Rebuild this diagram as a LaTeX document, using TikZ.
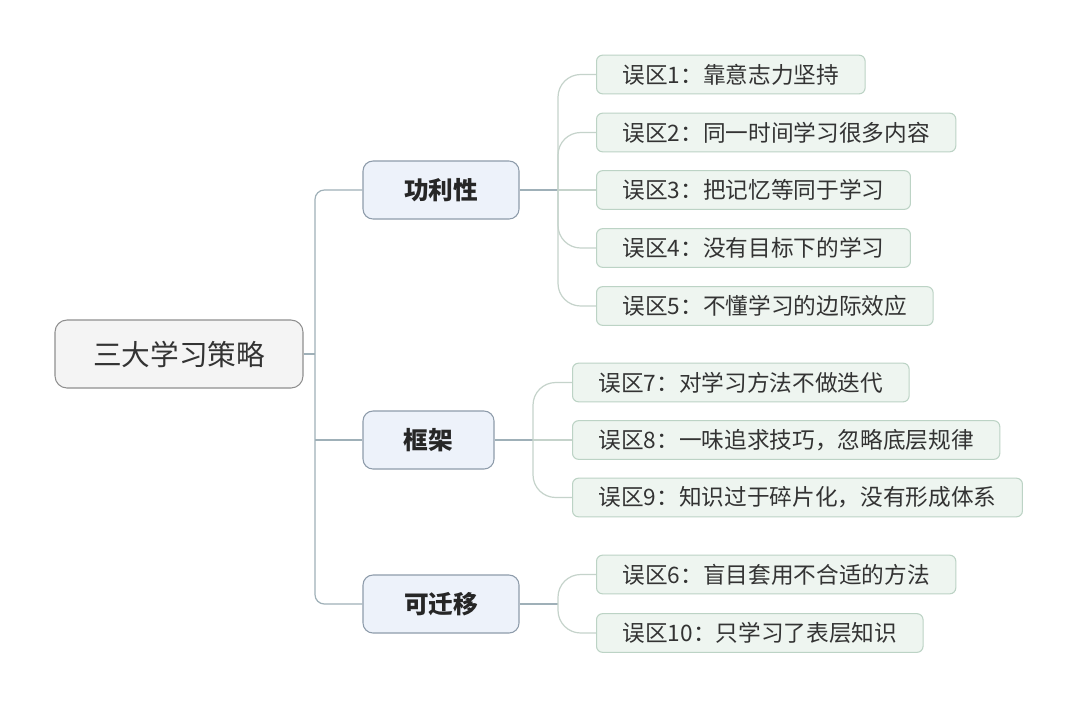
\documentclass[tikz,border=0pt]{standalone}
\usepackage{fontspec}
\setmainfont{Noto Sans CJK SC}
\usetikzlibrary{positioning}
\definecolor{rootfill}{HTML}{F4F4F4}
\definecolor{rootline}{HTML}{8F8F8F}
\definecolor{branchfill}{HTML}{EDF2FA}
\definecolor{branchline}{HTML}{8E9CAB}
\definecolor{leaffill}{HTML}{EEF5F0}
\definecolor{leafline}{HTML}{BCD3C5}
\definecolor{trunkcol}{HTML}{9FB0B8}
\definecolor{twigcol}{HTML}{C5D3CB}
\definecolor{inkcol}{HTML}{333333}
\tikzset{
  rootbox/.style={draw=rootline,fill=rootfill,rounded corners=9pt,line width=0.8pt,
    minimum width=186pt,minimum height=51pt,text=inkcol,font=\fontsize{21.5}{24}\selectfont},
  branchbox/.style={draw=branchline,fill=branchfill,rounded corners=7.5pt,line width=0.8pt,
    minimum height=43.5pt,text=black!85,font=\fontsize{18.5}{22}\selectfont\bfseries},
  leafbox/.style={draw=leafline,fill=leaffill,rounded corners=4.5pt,line width=0.8pt,anchor=west,
    minimum height=29pt,inner xsep=19.5pt,text=inkcol,font=\fontsize{17}{20}\selectfont},
  trunk/.style={draw=trunkcol,line width=0.9pt,rounded corners=7pt},
  twig/.style={draw=twigcol,line width=0.9pt,rounded corners=17pt}
}
\begin{document}
\begin{tikzpicture}[x=0.75pt,y=-0.75pt]
\fill[white] (0,0) rectangle (1080,707);
\useasboundingbox (0,0) rectangle (1080,707);

% centre and the three strategies
\node[rootbox] (root) at (179,354) {三大学习策略};
\node[branchbox,minimum width=117pt] (gongli) at (441,190) {功利性};
\node[branchbox,minimum width=98.25pt] (kuangjia) at (428.5,440) {框架};
\node[branchbox,minimum width=117pt] (keqianyi) at (441,604) {可迁移};

\coordinate (rootfork) at (315,354);
\coordinate (gfork) at (558,190);
\coordinate (kfork) at (533,440);
\coordinate (qfork) at (558,604);

% misconceptions
\foreach \n/\y/\t in {1/74.5/{误区1：靠意志力坚持},2/132.5/{误区2：同一时间学习很多内容},
    3/190/{误区3：把记忆等同于学习},4/248/{误区4：没有目标下的学习},5/306/{误区5：不懂学习的边际效应}}
  \node[leafbox] (l\n) at (596,\y) {\t};
\foreach \n/\y/\t in {7/382.5/{误区7：对学习方法不做迭代},8/440/{误区8：一味追求技巧，忽略底层规律},
    9/497.5/{误区9：知识过于碎片化，没有形成体系}}
  \node[leafbox] (l\n) at (572,\y) {\t};
\foreach \n/\y/\t in {6/574.5/{误区6：盲目套用不合适的方法},10/633/{误区10：只学习了表层知识}}
  \node[leafbox] (l\n) at (596,\y) {\t};

% connectors
\draw[trunk] (root.east) -- (rootfork);
\draw[trunk] (gongli.west) -| (rootfork) |- (keqianyi.west);
\draw[trunk] (kuangjia.west) -- (kuangjia.west -| rootfork);

\draw[trunk] (gongli.east) -- (gfork);
\draw[twig] (gfork) -- (l3.west);
\foreach \n in {1,2,4,5}
  \draw[twig] (gfork) |- (l\n.west);

\draw[trunk] (kuangjia.east) -- (kfork);
\draw[twig] (kfork) -- (l8.west);
\foreach \n in {7,9}
  \draw[twig] (kfork) |- (l\n.west);

\draw[trunk] (keqianyi.east) -- (qfork);
\foreach \n in {6,10}
  \draw[twig] (qfork) |- (l\n.west);
\end{tikzpicture}
\end{document}
